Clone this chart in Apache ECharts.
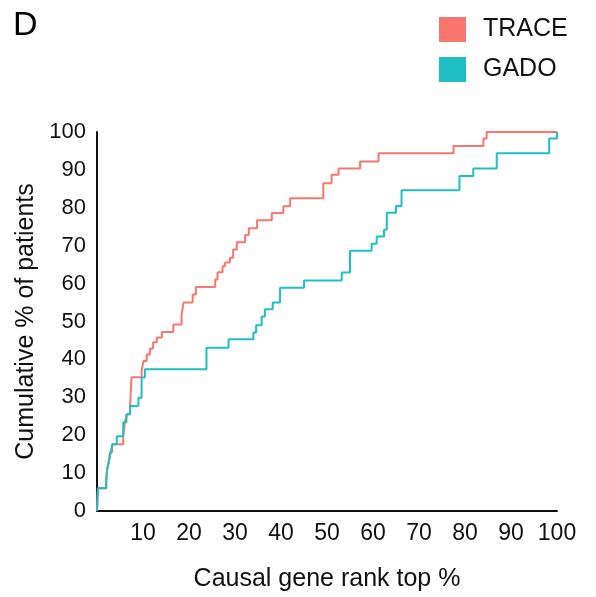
<!DOCTYPE html>
<html>
<head>
<meta charset="utf-8">
<script src="https://cdn.jsdelivr.net/npm/echarts@6/dist/echarts.min.js"></script>
<style>
  html, body { margin: 0; padding: 0; background: #fff; }
  #chart { width: 596px; height: 597px; }
</style>
</head>
<body>
<div id="chart"></div>
<script>
// step points: rank top % -> cumulative % of patients
var traceX = [0, 0.2, 2.0, 2.2, 2.6, 2.8, 3.3, 5.7, 6.1, 6.5, 7.2, 7.5, 9.7, 10.1, 10.8, 11.5, 12.2, 13.0, 14.1, 16.6,
              18.4, 18.8, 20.8, 21.5, 25.7, 26.2, 27.3, 27.8, 28.9, 29.6, 30.4, 32.2, 33.0, 34.8, 38.0, 40.5, 42.0, 49.2,
              51.0, 52.5, 57.2, 61.2, 77.5, 84.0, 84.7, 100];
var traceY = [0, 6, 8, 11, 13, 15.5, 17.6, 19.7, 23.7, 25.5, 27.6, 35.3, 36.9, 39.6, 41.3, 42.9, 44.5, 45.8, 47.2, 49.2,
              51.8, 55.0, 57.1, 59.1, 61.1, 63.0, 64.6, 65.6, 66.8, 69.0, 70.9, 72.8, 74.6, 76.7, 78.6, 80.4, 82.5, 86.5,
              88.7, 90.4, 92.2, 94.4, 96.3, 98.3, 100, 100];

var gadoX = [0, 0.2, 2.0, 2.2, 2.6, 3.0, 3.3, 4.3, 5.7, 6.4, 7.2, 9.0, 9.7, 10.4, 23.8, 28.6, 34.0, 34.6, 35.8, 36.5,
             38.2, 39.8, 45.0, 53.2, 55.0, 59.7, 60.8, 62.4, 63.0, 65.0, 66.2, 78.8, 81.8, 86.9, 98.3, 100];
var gadoY = [0, 6, 7.9, 11, 13.2, 15.5, 17.6, 19.7, 23.4, 25.5, 27.7, 29.9, 35.2, 37.4, 43.1, 45.3, 47.1, 49, 51.3, 53.2,
             55, 58.9, 60.8, 62.9, 68.7, 70.5, 72.4, 74.2, 78.7, 80.5, 84.6, 88.4, 90.4, 94.4, 98.3, 100];

var seriesNames = ['TRACE', 'GADO'];
var seriesColors = ['#F8766D', '#1FBFC4'];

function zip(xs, ys) {
    var out = [];
    for (var i = 0; i < xs.length; i++) out.push([xs[i], ys[i]]);
    return out;
}

var FONT = 'Liberation Sans, Arial, sans-serif';
var chart = echarts.init(document.getElementById('chart'));

var option = {
    animation: false,
    title: {
        text: 'D',
        left: 8,
        top: 4,
        textStyle: { fontFamily: FONT, fontSize: 34, fontWeight: 'normal', color: '#000' }
    },
    legend: {
        orient: 'vertical',
        left: 434,
        top: 12,
        icon: 'rect',
        itemWidth: 27,
        itemHeight: 25,
        itemGap: 15,
        textStyle: { fontFamily: FONT, fontSize: 25, color: '#111', padding: [0, 0, 0, 12] },
        data: seriesNames
    },
    grid: { left: 97, right: 39, top: 132, bottom: 85 },
    xAxis: {
        type: 'value',
        min: 0, max: 100, interval: 10,
        name: 'Causal gene rank top %',
        nameLocation: 'middle',
        nameGap: 56,
        nameTextStyle: { fontFamily: FONT, fontSize: 25, color: '#111' },
        axisLine: { lineStyle: { color: '#111', width: 2 } },
        axisTick: { show: false },
        splitLine: { show: false },
        axisLabel: {
            showMinLabel: false,
            margin: 11,
            fontFamily: FONT, fontSize: 23, color: '#111'
        }
    },
    yAxis: {
        type: 'value',
        min: 0, max: 100, interval: 10,
        name: 'Cumulative % of patients',
        nameLocation: 'middle',
        nameGap: 57,
        nameTextStyle: { fontFamily: FONT, fontSize: 25, color: '#111' },
        axisLine: { show: true, lineStyle: { color: '#111', width: 2 } },
        axisTick: { show: false },
        splitLine: { show: false },
        axisLabel: { margin: 11, fontFamily: FONT, fontSize: 22, color: '#111' }
    },
    series: [
        {
            name: seriesNames[0],
            type: 'line',
            step: 'end',
            symbol: 'none',
            color: seriesColors[0],
            lineStyle: { width: 2 },
            data: zip(traceX, traceY)
        },
        {
            name: seriesNames[1],
            type: 'line',
            step: 'end',
            symbol: 'none',
            color: seriesColors[1],
            lineStyle: { width: 2 },
            data: zip(gadoX, gadoY)
        }
    ]
};

chart.setOption(option);
</script>
</body>
</html>
